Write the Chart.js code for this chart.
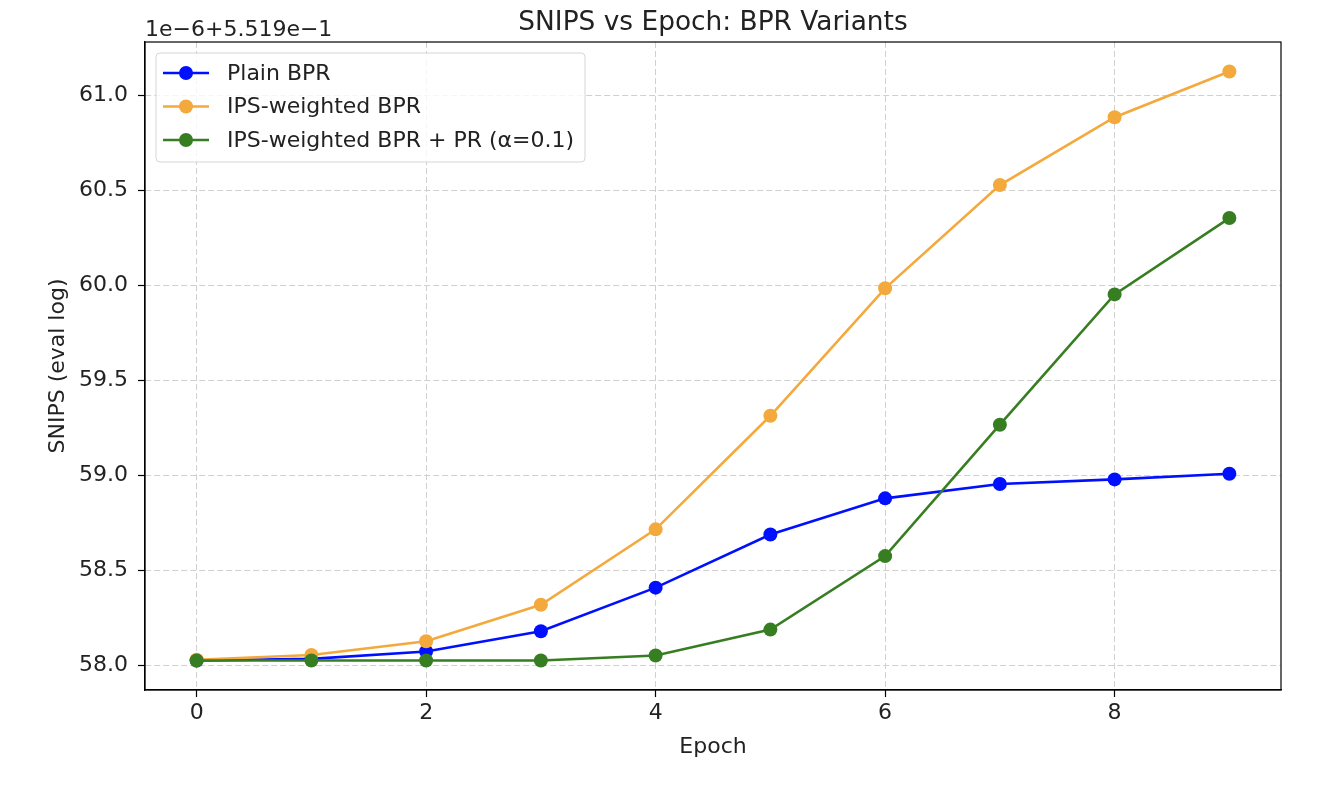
<!DOCTYPE html>
<html>
<head>
<meta charset="utf-8">
<script src="https://cdn.jsdelivr.net/npm/chart.js@4.4.1/dist/chart.umd.min.js"></script>
<style>
  html, body { margin: 0; padding: 0; background: #fff; }
  #wrap { width: 1340px; height: 786px; }
</style>
</head>
<body>
<div id="wrap"><canvas id="snips-chart"></canvas></div>
<script>
// data (values shown as offset from 0.5519, in 1e-6)
const epochs = [0, 1, 2, 3, 4, 5, 6, 7, 8, 9];
const plainBpr = [58.026, 58.035, 58.074, 58.18, 58.41, 58.69, 58.88, 58.956, 58.98, 59.01];
const ipsBpr = [58.03, 58.055, 58.128, 58.32, 58.717, 59.315, 59.986, 60.53, 60.887, 61.128];
const ipsBprPr = [58.026, 58.026, 58.026, 58.026, 58.053, 58.189, 58.576, 59.268, 59.954, 60.356];

const seriesLabels = ["Plain BPR", "IPS-weighted BPR", "IPS-weighted BPR + PR (α=0.1)"];
const seriesColors = ["#0010ff", "#f3a93c", "#377e22"];

const xTicks = [0, 2, 4, 6, 8];
const yTicks = [58.0, 58.5, 59.0, 59.5, 60.0, 60.5, 61.0];

const FONT = "'DejaVu Sans', 'Liberation Sans', sans-serif";
const TEXT = "#222";

function toPoints(values) {
  return values.map(function (v, i) {
    return { x: epochs[i], y: v };
  });
}

// title, frame, offset text and legend box (matplotlib style)
const extrasPlugin = {
  id: "extras",
  afterDraw: function (chart) {
    const ctx = chart.ctx;
    const area = chart.chartArea;
    ctx.save();

    // full axes frame
    ctx.strokeStyle = "#000";
    ctx.lineWidth = 1.2;
    ctx.strokeRect(area.left, area.top, area.right - area.left, area.bottom - area.top);

    // title centred over the plot area
    ctx.fillStyle = TEXT;
    ctx.font = "26.4px " + FONT;
    ctx.textAlign = "center";
    ctx.textBaseline = "alphabetic";
    ctx.fillText("SNIPS vs Epoch: BPR Variants", (area.left + area.right) / 2, area.top - 12);

    // offset text above the y axis
    ctx.font = "22px " + FONT;
    ctx.textAlign = "left";
    ctx.fillText("1e\u22126+5.519e\u22121", area.left, area.top - 6);

    // legend
    const bx = area.left + 11;
    const by = area.top + 11;
    const bw = 429;
    const bh = 109;
    ctx.beginPath();
    ctx.roundRect(bx, by, bw, bh, 4);
    ctx.fillStyle = "rgba(255,255,255,0.8)";
    ctx.fill();
    ctx.strokeStyle = "#d5d5d5";
    ctx.lineWidth = 1;
    ctx.stroke();

    ctx.font = "22px " + FONT;
    ctx.textBaseline = "middle";
    for (let i = 0; i < seriesLabels.length; i++) {
      const cy = by + 20 + i * 33.5;
      ctx.strokeStyle = seriesColors[i];
      ctx.lineWidth = 2.5;
      ctx.beginPath();
      ctx.moveTo(bx + 7, cy);
      ctx.lineTo(bx + 53, cy);
      ctx.stroke();
      ctx.fillStyle = seriesColors[i];
      ctx.beginPath();
      ctx.arc(bx + 30, cy, 7, 0, Math.PI * 2);
      ctx.fill();
      ctx.fillStyle = TEXT;
      ctx.fillText(seriesLabels[i], bx + 71, cy + 1);
    }
    ctx.restore();
  },
};

const datasets = [plainBpr, ipsBpr, ipsBprPr].map(function (vals, i) {
  return {
    label: seriesLabels[i],
    data: toPoints(vals),
    borderColor: seriesColors[i],
    backgroundColor: seriesColors[i],
    pointBackgroundColor: seriesColors[i],
    pointBorderWidth: 0,
    pointRadius: 7,
    borderWidth: 2.6,
    tension: 0,
    order: 3 - i,
  };
});

const gridOpts = {
  color: "#d0d0d0",
  lineWidth: 1,
  tickLength: 7,
  tickColor: "#000",
  tickWidth: 1.2,
  tickBorderDash: [],
};

const ctx = document.getElementById("snips-chart");
new Chart(ctx, {
  type: "line",
  data: { datasets: datasets },
  options: {
    responsive: true,
    maintainAspectRatio: false,
    animation: false,
    devicePixelRatio: 1,
    layout: { padding: { top: 42, left: 0, right: 59, bottom: 0 } },
    plugins: {
      legend: { display: false },
      tooltip: { enabled: false },
      title: { display: false },
    },
    scales: {
      x: {
        type: "linear",
        min: -0.45,
        max: 9.45,
        afterBuildTicks: function (scale) {
          scale.ticks = xTicks.map(function (v) { return { value: v }; });
        },
        afterFit: function (scale) {
          scale.height = 96;
        },
        ticks: {
          color: TEXT,
          font: { family: FONT, size: 22 },
          padding: 3,
          maxRotation: 0,
          callback: function (v) { return String(v); },
        },
        grid: gridOpts,
        border: { display: true, color: "#000", width: 1.2, dash: [6, 3] },
        title: {
          display: true,
          text: "Epoch",
          color: TEXT,
          font: { family: FONT, size: 22 },
          padding: { top: 4, bottom: 26 },
        },
      },
      y: {
        type: "linear",
        min: 57.871,
        max: 61.283,
        afterBuildTicks: function (scale) {
          scale.ticks = yTicks.map(function (v) { return { value: v }; });
        },
        afterFit: function (scale) {
          scale.width = 145;
        },
        ticks: {
          color: TEXT,
          font: { family: FONT, size: 22 },
          padding: 10,
          callback: function (v) { return Number(v).toFixed(1); },
        },
        grid: gridOpts,
        border: { display: true, color: "#000", width: 1.2, dash: [6, 3] },
        title: {
          display: true,
          text: "SNIPS (eval log)",
          color: TEXT,
          font: { family: FONT, size: 22 },
          padding: { top: 45, bottom: 4 },
        },
      },
    },
  },
  plugins: [extrasPlugin],
});
</script>
</body>
</html>
